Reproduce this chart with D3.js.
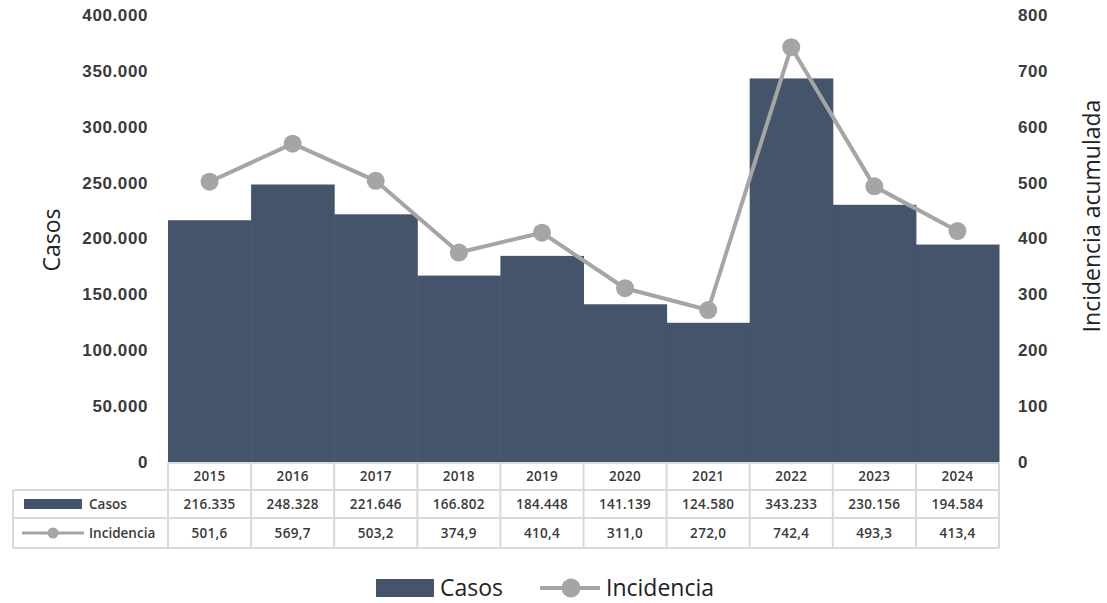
<!DOCTYPE html>
<html>
<head>
<meta charset="utf-8">
<script src="https://cdn.jsdelivr.net/npm/d3@7"></script>
<style>
  body { margin: 0; background: #fff; }
  svg { font-family: "Open Sans", "Noto Sans", sans-serif; }
</style>
</head>
<body>
<svg id="chart"></svg>
<script>
const years = ['2015', '2016', '2017', '2018', '2019', '2020', '2021', '2022', '2023', '2024'];
const casos = [216335, 248328, 221646, 166802, 184448, 141139, 124580, 343233, 230156, 194584];
const incidencia = [501.6, 569.7, 503.2, 374.9, 410.4, 311.0, 272.0, 742.4, 493.3, 413.4];
const casosTicks = [0, 50000, 100000, 150000, 200000, 250000, 300000, 350000, 400000];
const incTicks = [0, 100, 200, 300, 400, 500, 600, 700, 800];

const width = 1107;
const height = 603;
const barColor = '#44546a';
const lineColor = '#a5a5a5';
const gridColor = '#d9d9d9';
const textColor = '#3a3a3a';

const fmtCasos = d => d3.format(',')(d).replace(/,/g, '.');
const fmtInc = d => d.toFixed(1).replace('.', ',');

const svg = d3.select('#chart')
  .attr('width', width)
  .attr('height', height);

const x = d3.scaleBand()
  .domain(years)
  .range([168, 999])
  .padding(0);

const yL = d3.scaleLinear().domain([0, 400000]).range([462, 15]);
const yR = d3.scaleLinear().domain([0, 800]).range([462, 15]);

// bars
svg.append('g')
  .selectAll('rect')
  .data(years)
  .enter().append('rect')
  .attr('x', d => x(d))
  .attr('y', (d, i) => yL(casos[i]))
  .attr('width', x.bandwidth() + 0.5)
  .attr('height', (d, i) => yL(0) - yL(casos[i]))
  .attr('fill', barColor);

// left axis
const axisL = svg.append('g')
  .attr('transform', 'translate(148,0)')
  .call(d3.axisLeft(yL).tickValues(casosTicks).tickFormat(fmtCasos).tickSize(0).tickPadding(0));
axisL.select('.domain').remove();
axisL.selectAll('text')
  .attr('font-size', 17)
  .attr('font-weight', 600)
  .attr('letter-spacing', 0.6)
  .attr('fill', textColor);

// right axis
const axisR = svg.append('g')
  .attr('transform', 'translate(1018,0)')
  .call(d3.axisRight(yR).tickValues(incTicks).tickSize(0).tickPadding(0));
axisR.select('.domain').remove();
axisR.selectAll('text')
  .attr('font-size', 17)
  .attr('font-weight', 600)
  .attr('letter-spacing', 0.6)
  .attr('fill', textColor);

// axis titles
svg.append('text')
  .attr('transform', 'translate(60,240) rotate(-90)')
  .attr('text-anchor', 'middle')
  .attr('font-size', 23)
  .attr('fill', '#222')
  .text('Casos');

svg.append('text')
  .attr('transform', 'translate(1100,216) rotate(-90)')
  .attr('text-anchor', 'middle')
  .attr('font-size', 23)
  .attr('fill', '#222')
  .text('Incidencia acumulada');

// line
const cx = d => x(d) + x.bandwidth() / 2;
const line = d3.line()
  .x(d => cx(d))
  .y((d, i) => yR(incidencia[i]));

svg.append('path')
  .datum(years)
  .attr('d', line)
  .attr('fill', 'none')
  .attr('stroke', lineColor)
  .attr('stroke-width', 4)
  .attr('stroke-linejoin', 'round');

svg.append('g')
  .selectAll('circle')
  .data(years)
  .enter().append('circle')
  .attr('cx', d => cx(d))
  .attr('cy', (d, i) => yR(incidencia[i]))
  .attr('r', 9)
  .attr('fill', lineColor);

// data table
const rowTop = [463, 490, 518];
const rowBot = [490, 518, 548];
const table = svg.append('g');

const colEdges = years.map(d => x(d)).concat([x.range()[1]]);
table.selectAll('.vline')
  .data(colEdges)
  .enter().append('line')
  .attr('x1', d => d).attr('x2', d => d)
  .attr('y1', rowTop[0]).attr('y2', rowBot[2])
  .attr('stroke', gridColor).attr('stroke-width', 2);

table.append('line')
  .attr('x1', 13).attr('x2', 13)
  .attr('y1', rowTop[1]).attr('y2', rowBot[2])
  .attr('stroke', gridColor).attr('stroke-width', 2);

table.append('line')
  .attr('x1', 168).attr('x2', 999)
  .attr('y1', rowTop[0]).attr('y2', rowTop[0])
  .attr('stroke', gridColor).attr('stroke-width', 2);
[rowTop[1], rowTop[2], rowBot[2]].forEach(yy => {
  table.append('line')
    .attr('x1', 13).attr('x2', 999)
    .attr('y1', yy).attr('y2', yy)
    .attr('stroke', gridColor).attr('stroke-width', 2);
});

const cellText = (val, row) => table.selectAll(null)
  .data(years)
  .enter().append('text')
  .attr('x', d => cx(d))
  .attr('y', (rowTop[row] + rowBot[row]) / 2)
  .attr('dy', '0.35em')
  .attr('text-anchor', 'middle')
  .attr('font-size', 13.5)
  .attr('font-weight', 600)
  .attr('letter-spacing', 0.3)
  .attr('fill', textColor)
  .text((d, i) => val(i));

cellText(i => years[i], 0);
cellText(i => fmtCasos(casos[i]), 1);
cellText(i => fmtInc(incidencia[i]), 2);

// row legend keys
const r1 = (rowTop[1] + rowBot[1]) / 2;
const r2 = (rowTop[2] + rowBot[2]) / 2;
table.append('rect')
  .attr('x', 24).attr('y', r1 - 5).attr('width', 58).attr('height', 10)
  .attr('fill', barColor);
table.append('text')
  .attr('x', 89).attr('y', r1).attr('dy', '0.35em')
  .attr('font-size', 13.5).attr('font-weight', 600).attr('fill', textColor)
  .text('Casos');
table.append('line')
  .attr('x1', 22).attr('x2', 84).attr('y1', r2).attr('y2', r2)
  .attr('stroke', lineColor).attr('stroke-width', 3);
table.append('circle')
  .attr('cx', 53).attr('cy', r2).attr('r', 5.5)
  .attr('fill', lineColor);
table.append('text')
  .attr('x', 89).attr('y', r2).attr('dy', '0.35em')
  .attr('font-size', 13.5).attr('font-weight', 600).attr('fill', textColor)
  .text('Incidencia');

// bottom legend
const legY = 588;
const legend = svg.append('g');
legend.append('rect')
  .attr('x', 376).attr('y', legY - 9).attr('width', 58).attr('height', 18)
  .attr('fill', barColor);
legend.append('text')
  .attr('x', 440).attr('y', legY).attr('dy', '0.35em')
  .attr('font-size', 23).attr('fill', '#222')
  .text('Casos');
legend.append('line')
  .attr('x1', 540).attr('x2', 600).attr('y1', legY).attr('y2', legY)
  .attr('stroke', lineColor).attr('stroke-width', 4);
legend.append('circle')
  .attr('cx', 571).attr('cy', legY).attr('r', 9.5)
  .attr('fill', lineColor);
legend.append('text')
  .attr('x', 606).attr('y', legY).attr('dy', '0.35em')
  .attr('font-size', 23).attr('fill', '#222')
  .text('Incidencia');
</script>
</body>
</html>
